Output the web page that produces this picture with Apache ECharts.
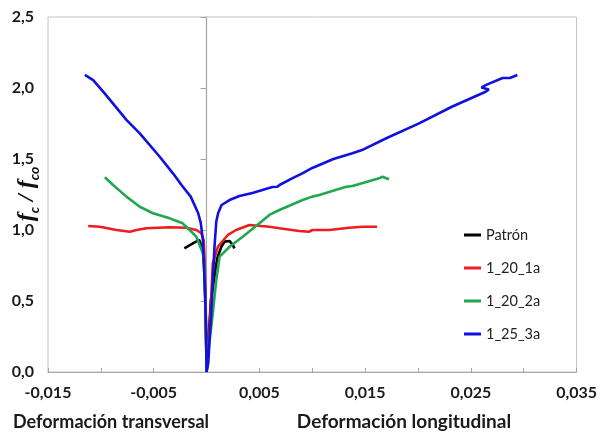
<!DOCTYPE html>
<html>
<head>
<meta charset="utf-8">
<script src="https://cdn.jsdelivr.net/npm/echarts@6/dist/echarts.min.js"></script>
<style>
  html, body { margin: 0; padding: 0; background: #fff; }
  #chart { width: 600px; height: 432px; }
</style>
</head>
<body>
<div id="chart"></div>
<script>
// nombres de las series (leyenda)
const nombres = ['Patrón', '1_20_1a', '1_20_2a', '1_25_3a'];
const colores = ['#000000', '#ee1c1c', '#1fa84f', '#1010e0'];

// [deformacion, fc/fco] - rama transversal (negativa) y longitudinal
const patronTrans = [[0, 0], [-0.0001, 0.5], [-0.0003, 0.85], [-0.0007, 0.93], [-0.0013, 0.906], [-0.0021, 0.871]];
const patronLong = [[0, 0], [0.0004, 0.5], [0.0010, 0.80], [0.0014, 0.882], [0.0017, 0.918], [0.00217, 0.923], [0.00248, 0.894], [0.00264, 0.871]];

const rojoTrans = [[0, 0], [-0.00003, 0.18], [-0.00009, 0.507], [-0.00019, 0.80], [-0.00028, 0.930], [-0.0005, 0.977],
  [-0.00097, 1.0], [-0.00192, 1.016], [-0.00349, 1.019], [-0.00569, 1.012], [-0.00663, 1.0], [-0.00726, 0.988],
  [-0.00852, 1.0], [-0.01009, 1.023], [-0.0112, 1.028]];
const rojoLong = [[0, 0], [0.00028, 0.296], [0.00044, 0.53], [0.00059, 0.765], [0.00107, 0.882], [0.00201, 0.965],
  [0.0028, 1.0], [0.00406, 1.035], [0.00594, 1.023], [0.00689, 1.012], [0.00877, 0.993], [0.00972, 0.988],
  [0.0100, 1.0], [0.0116, 1.0], [0.01349, 1.016], [0.01472, 1.023], [0.01613, 1.023]];

const verdeTrans = [[0, 0], [-0.00003, 0.178], [-0.00009, 0.415], [-0.00019, 0.648], [-0.00019, 0.742], [-0.00035, 0.836],
  [-0.00097, 0.953], [-0.0016, 1.0], [-0.00226, 1.047], [-0.00349, 1.082], [-0.00507, 1.118], [-0.00632, 1.164],
  [-0.00758, 1.235], [-0.00884, 1.317], [-0.00962, 1.371]];
const verdeLong = [[0, 0], [0.00019, 0.155], [0.00059, 0.415], [0.00092, 0.648], [0.00123, 0.812], [0.00217, 0.882],
  [0.00342, 0.953], [0.005, 1.047], [0.00594, 1.106], [0.00689, 1.141], [0.00909, 1.211], [0.01, 1.235],
  [0.01066, 1.246], [0.01321, 1.305], [0.0138, 1.31], [0.01632, 1.364], [0.01663, 1.375], [0.01726, 1.357]];

const azulTrans = [[0, 0], [-0.00003, 0.18], [-0.00009, 0.415], [-0.00019, 0.648], [-0.00028, 0.80], [-0.00035, 0.93],
  [-0.00055, 1.05], [-0.0008, 1.12], [-0.0015, 1.235], [-0.0023, 1.31], [-0.00318, 1.399], [-0.00443, 1.516],
  [-0.00632, 1.681], [-0.00758, 1.775], [-0.00978, 1.974], [-0.01073, 2.056], [-0.01151, 2.092]];
const azulLong = [[0, 0], [0.00016, 0.063], [0.00028, 0.225], [0.00044, 0.415], [0.00059, 0.648], [0.00075, 0.882],
  [0.00092, 1.06], [0.0011, 1.12], [0.00142, 1.176], [0.00217, 1.211], [0.00311, 1.239], [0.00434, 1.261],
  [0.00528, 1.282], [0.00623, 1.303], [0.0067, 1.305], [0.0069, 1.317], [0.008, 1.36], [0.0091, 1.40], [0.01, 1.437],
  [0.012, 1.50], [0.0138, 1.54], [0.0147, 1.563], [0.017, 1.646], [0.0201, 1.751], [0.0232, 1.868], [0.0264, 1.974],
  [0.0267, 1.99], [0.026, 2.003], [0.0264, 2.02], [0.028, 2.07], [0.0287, 2.07], [0.0294, 2.092]];

const ramas = [[patronTrans, patronLong], [rojoTrans, rojoLong], [verdeTrans, verdeLong], [azulTrans, azulLong]];

// une las dos ramas pasando por el origen
function unir(trans, long) {
  return trans.slice().reverse().concat(long.slice(1));
}

const coma = function (v, d) { return v.toFixed(d).replace('.', ','); };
const fuente = 'Lato, "Open Sans", sans-serif';

let myChart = echarts.init(document.getElementById('chart'));

let option = {
  animation: false,
  backgroundColor: '#ffffff',
  grid: {
    left: 48, right: 22, top: 17, bottom: 60,
    show: true, borderColor: '#c4c4c4', borderWidth: 1
  },
  legend: {
    orient: 'vertical',
    left: 459, top: 222,
    itemWidth: 17, itemHeight: 3, itemGap: 17,
    icon: 'rect',
    data: nombres,
    textStyle: { fontFamily: fuente, fontSize: 14.5, color: '#222', lineHeight: 16 }
  },
  xAxis: {
    type: 'value',
    min: -0.015, max: 0.035, interval: 0.005,
    axisLine: { onZero: false, lineStyle: { color: '#a6a6a6', width: 1.2 } },
    axisTick: { inside: true, length: 4, lineStyle: { color: '#a6a6a6' } },
    splitLine: { show: false },
    axisLabel: {
      margin: 13,
      fontFamily: fuente, fontSize: 16, fontWeight: 'bold', color: '#1a1a1a',
      formatter: function (v) {
        let k = Math.round(v / 0.005);
        return Math.abs(k) % 2 === 1 ? coma(v, 3) : '';
      }
    }
  },
  yAxis: {
    type: 'value',
    min: 0, max: 2.5, interval: 0.5,
    axisLine: { onZero: true, lineStyle: { color: '#a6a6a6', width: 1.2 } },
    axisTick: { show: true, length: 6, lineStyle: { color: '#a6a6a6' } },
    splitLine: { show: false },
    axisLabel: {
      margin: 14,
      fontFamily: fuente, fontSize: 16, fontWeight: 'bold', color: '#1a1a1a',
      formatter: function (v) { return coma(v, 1); }
    }
  },
  graphic: [
    {
      type: 'text', x: 27, y: 194, rotation: Math.PI / 2,
      style: {
        text: '{a|f}{b|c}{a| / f}{b|co}',
        align: 'center', verticalAlign: 'middle',
        rich: {
          a: { fontFamily: '"Liberation Serif", serif', fontStyle: 'italic', fontWeight: 'bold', fontSize: 24, lineHeight: 28, fill: '#111' },
          b: { fontFamily: fuente, fontStyle: 'italic', fontWeight: 'bold', fontSize: 14, lineHeight: 14, padding: [14, 0, 0, 0], fill: '#111' }
        }
      }
    },
    {
      type: 'text', x: 111, y: 422,
      style: { text: 'Deformación transversal', align: 'center', verticalAlign: 'middle',
        font: 'bold 18px ' + fuente, fill: '#1a1a1a' }
    },
    {
      type: 'text', x: 404, y: 422,
      style: { text: 'Deformación longitudinal', align: 'center', verticalAlign: 'middle',
        font: 'bold 19px ' + fuente, fill: '#1a1a1a' }
    }
  ],
  series: nombres.map(function (n, i) {
    return {
      name: n,
      type: 'line',
      data: unir(ramas[i][0], ramas[i][1]),
      showSymbol: false,
      symbol: 'none',
      z: 2 + i,
      lineStyle: { color: colores[i], width: 2.6 },
      itemStyle: { color: colores[i] }
    };
  })
};

myChart.setOption(option);
</script>
</body>
</html>
